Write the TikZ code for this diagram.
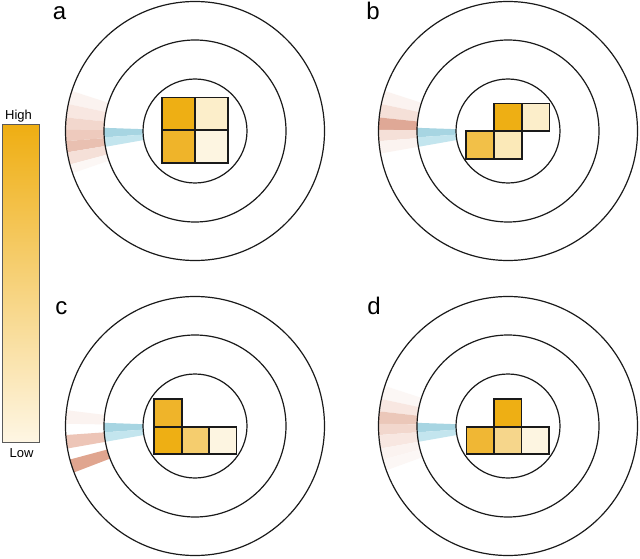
\documentclass[tikz,border=0pt]{standalone}
\usepackage{fontspec}
\setmainfont{Liberation Sans}
\definecolor{ink}{HTML}{1A1A1A}
\definecolor{barborder}{HTML}{5A5A5A}
\definecolor{hi}{HTML}{EFAE12}
\definecolor{lo}{HTML}{FEF6E4}
\definecolor{bluedark}{HTML}{A7D5E2}
\definecolor{bluelight}{HTML}{C3E5EE}
% cell colours
\definecolor{cA}{HTML}{EEAF14}
\definecolor{cB}{HTML}{EFB42A}
\definecolor{cC}{HTML}{F2C048}
\definecolor{cD}{HTML}{F5CD6E}
\definecolor{cE}{HTML}{F6D68B}
\definecolor{cF}{HTML}{FBE9B8}
\definecolor{cG}{HTML}{FCEECA}
\definecolor{cH}{HTML}{FDF5E1}
\definecolor{cI}{HTML}{F0B734}
% pink shades
\definecolor{p0}{HTML}{FCF7F5}
\definecolor{p1}{HTML}{FBF3F0}
\definecolor{p2}{HTML}{F8E7E1}
\definecolor{p3}{HTML}{F5E0D8}
\definecolor{p4}{HTML}{F2D7CD}
\definecolor{p5}{HTML}{EECABD}
\definecolor{p6}{HTML}{E9C0B1}
\definecolor{p7}{HTML}{EDC5B7}
\definecolor{p8}{HTML}{DFA896}
\definecolor{p9}{HTML}{E0A58F}
\definecolor{p10}{HTML}{EBC7B9}
\newcommand\annsec[7]{%
  \fill[#7,shift={(#1,#2)}] ({180+#3}:#6) arc[start angle={180+#3}, end angle={180+#4}, radius=#6]
    -- ({180+#4}:#5) arc[start angle={180+#4}, end angle={180+#3}, radius=#5] -- cycle;}
\newcommand\cellsq[4]{\filldraw[cellbox, fill=#4] (#1,#2) rectangle ++(#3,#3);}
\newcommand\beam[2]{%
  \annsec{#1}{#2}{-2}{4}{52}{91}{bluedark}
  \annsec{#1}{#2}{4}{10}{52}{91}{bluelight}}
\newcommand\rings[2]{%
  \draw[ring] (#1,#2) circle[radius=129.5];
  \draw[ring] (#1,#2) circle[radius=91];
  \draw[ring] (#1,#2) circle[radius=52];}
\begin{document}
\begin{tikzpicture}[x=1pt,y=1pt,
  ring/.style={draw=ink, line width=1.2pt},
  cellbox/.style={draw=ink, line width=1.7pt, line join=miter},
  lbl/.style={font=\fontsize{24}{24}\selectfont, anchor=base},
  barlbl/.style={font=\fontsize{13}{13}\selectfont, anchor=base}]
\useasboundingbox (0,0) rectangle (640,558);
\fill[white] (0,0) rectangle (640,558);

% ---- colour bar
\shade[top color=hi, bottom color=lo] (2,115.5) rectangle (39,433.5);
\draw[barborder, line width=1pt] (2,115.5) rectangle (39,433.5);
\node[barlbl] (high) at (18.5,438.7) {High};
\node[barlbl] (low) at (21.5,100.3) {Low};

% ---- panel labels
\node[lbl] (la) at (59.5,538.7) {a};
\node[lbl] (lb) at (373,538.7) {b};
\node[lbl] (lc) at (61.3,244) {c};
\node[lbl] (ld) at (374,244) {d};

% ---- panel a (centre 195,427)
\annsec{195}{427}{-18}{-12}{91}{129.5}{p1}
\annsec{195}{427}{-12}{-6}{91}{129.5}{p2}
\annsec{195}{427}{-6}{-0.5}{91}{129.5}{p4}
\annsec{195}{427}{-0.5}{4.5}{91}{129.5}{p5}
\annsec{195}{427}{4.5}{9.5}{91}{129.5}{p6}
\annsec{195}{427}{9.5}{15}{91}{129.5}{p3}
\annsec{195}{427}{15}{19}{91}{129.5}{p0}
\beam{195}{427}
\rings{195}{427}
\cellsq{162.3}{427.7}{32.7}{cA}
\cellsq{195}{427.7}{32.7}{cG}
\cellsq{162.3}{395}{32.7}{cB}
\cellsq{195}{395}{32.7}{cH}

% ---- panel b (centre 508,427)
\annsec{508}{427}{-18}{-12}{91}{129.5}{p1}
\annsec{508}{427}{-12}{-6}{91}{129.5}{p3}
\annsec{508}{427}{-6}{-0.5}{91}{129.5}{p8}
\annsec{508}{427}{-0.5}{4.5}{91}{129.5}{p3}
\annsec{508}{427}{4.5}{10}{91}{129.5}{p1}
\beam{508}{427}
\rings{508}{427}
\cellsq{494}{426.7}{27.7}{cA}
\cellsq{521.7}{426.7}{27.7}{cG}
\cellsq{466.3}{399}{27.7}{cC}
\cellsq{494}{399}{27.7}{cF}

% ---- panel c (centre 195,132)
\annsec{195}{132}{-7}{-1}{91}{129.5}{p1}
\annsec{195}{132}{4}{10}{91}{129.5}{p7}
\annsec{195}{132}{15}{21}{91}{129.5}{p9}
\beam{195}{132}
\rings{195}{132}
\cellsq{154.3}{131.3}{27.4}{cB}
\cellsq{154.3}{103.9}{27.4}{cA}
\cellsq{181.7}{103.9}{27.4}{cD}
\cellsq{209.1}{103.9}{27.4}{cH}

% ---- panel d (centre 508,132)
\annsec{508}{132}{-18}{-12}{91}{129.5}{p0}
\annsec{508}{132}{-12}{-6.5}{91}{129.5}{p2}
\annsec{508}{132}{-6.5}{-1}{91}{129.5}{p10}
\annsec{508}{132}{-1}{4}{91}{129.5}{p4}
\annsec{508}{132}{4}{10}{91}{129.5}{p2}
\annsec{508}{132}{10}{15}{91}{129.5}{p1}
\annsec{508}{132}{15}{20}{91}{129.5}{p0}
\beam{508}{132}
\rings{508}{132}
\cellsq{494}{131.3}{27.4}{cA}
\cellsq{466.6}{103.9}{27.4}{cI}
\cellsq{494}{103.9}{27.4}{cE}
\cellsq{521.4}{103.9}{27.4}{cH}
\end{tikzpicture}
\end{document}
